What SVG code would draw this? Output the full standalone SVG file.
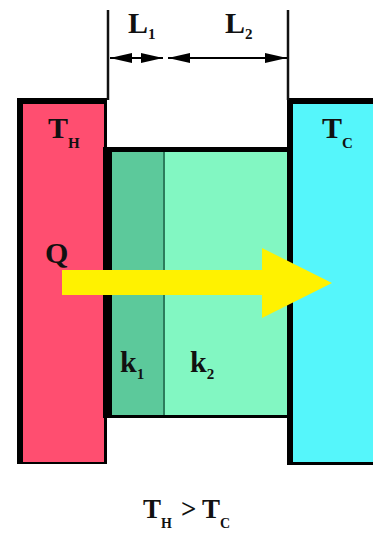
<svg xmlns="http://www.w3.org/2000/svg" width="373" height="543" viewBox="0 0 373 543">
  <defs>
    <marker id="ah" markerUnits="userSpaceOnUse" markerWidth="22" markerHeight="10" refX="22" refY="5" orient="auto-start-reverse" viewBox="0 0 22 10">
      <path d="M0,0 L22,5 L0,10 Z" fill="#000"/>
    </marker>
  </defs>
  <style>
    .lbl { font-family: "Liberation Serif", "Times New Roman", serif; font-weight: bold; fill: #111; }
    .dim { stroke: #000; stroke-width: 2; fill: none; }
    .ext { stroke: #111; stroke-width: 2.5; }
  </style>
  <rect width="373" height="543" fill="#fff"/>

  <g id="hot-reservoir">
    <rect x="17" y="98" width="90" height="366" fill="#000"/>
    <rect x="23" y="104" width="81" height="358" fill="#ff4e70"/>
    <text class="lbl" x="48" y="138" font-size="30">T<tspan font-size="15" dy="10">H</tspan></text>
  </g>

  <g id="slab-frame">
    <rect x="103" y="147" width="190" height="271" fill="#000"/>
  </g>

  <g id="layer-1">
    <rect x="112" y="152" width="51" height="263" fill="#5cc99b"/>
    <rect x="163" y="152" width="2" height="263" fill="#2c7d5c"/>
    <text class="lbl" x="120" y="372" font-size="30">k<tspan font-size="15" dy="7">1</tspan></text>
  </g>

  <g id="layer-2">
    <rect x="165" y="152" width="122" height="263" fill="#82f7c2"/>
    <text class="lbl" x="190" y="372" font-size="30">k<tspan font-size="15" dy="7">2</tspan></text>
  </g>

  <g id="cold-reservoir">
    <rect x="287" y="98" width="90" height="367" fill="#000"/>
    <rect x="293" y="104" width="80" height="358" fill="#55f6fb"/>
    <text class="lbl" x="322" y="138" font-size="30">T<tspan font-size="15" dy="10">C</tspan></text>
  </g>

  <g id="heat-flow">
    <polygon points="62,270 262,270 262,248 332,283 262,318 262,295 62,295" fill="#fff200"/>
    <text class="lbl" x="45" y="263" font-size="30">Q</text>
  </g>

  <g id="connectors">
    <line class="ext" x1="108" y1="10" x2="108" y2="100"/>
    <line class="ext" x1="288" y1="10" x2="288" y2="100"/>
    <line class="dim" x1="110" y1="58" x2="163" y2="58" marker-start="url(#ah)" marker-end="url(#ah)"/>
    <line class="dim" x1="168" y1="58" x2="287" y2="58" marker-start="url(#ah)" marker-end="url(#ah)"/>
  </g>

  <g id="dimension-labels">
    <text class="lbl" x="128" y="33" font-size="30">L<tspan font-size="15" dy="6">1</tspan></text>
    <text class="lbl" x="225" y="33" font-size="30">L<tspan font-size="15" dy="6">2</tspan></text>
  </g>

  <g id="condition">
    <text class="lbl" x="143" y="518" font-size="27">T<tspan font-size="14" dy="10">H</tspan></text>
    <text class="lbl" x="181" y="518" font-size="27">&gt;</text>
    <text class="lbl" x="202" y="518" font-size="27">T<tspan font-size="14" dy="10">C</tspan></text>
  </g>
</svg>
